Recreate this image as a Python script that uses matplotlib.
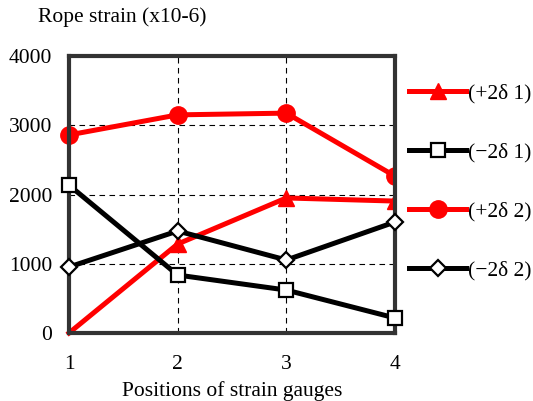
import matplotlib
matplotlib.use("Agg")
import matplotlib.pyplot as plt
from matplotlib.lines import Line2D
from matplotlib.patches import Rectangle

plt.rcParams['font.family'] = ['Liberation Serif', 'DejaVu Serif']

positions = [1, 2, 3, 4]
plus_2d1 = [0, 1285, 1950, 1905]
minus_2d1 = [2135, 837, 620, 217]
plus_2d2 = [2860, 3150, 3175, 2265]
minus_2d2 = [953, 1473, 1054, 1603]
labels = ["(+2δ 1)", "(\u22122δ 1)", "(+2δ 2)", "(\u22122δ 2)"]

fs = 15.5
fig = plt.figure(figsize=(5.33, 4.01), dpi=100)
ax = fig.add_axes([69/533, 1-333/401, (395-69)/533, (333-56)/401])

lw = 3.6
clip = Rectangle((-0.1, -0.1), 1.1, 1.2, transform=ax.transAxes)
l1, = ax.plot(positions, plus_2d1, color='red', lw=lw, marker='^', ms=11, markevery=[1, 2, 3], zorder=2)
l2, = ax.plot(positions, plus_2d2, color='red', lw=lw, marker='o', ms=12.5, zorder=2)
for l in (l1, l2):
    l.set_clip_path(clip)
ax.plot(positions, minus_2d1, color='black', lw=lw, marker='s', ms=10, mfc='white', mec='black', mew=1.6, clip_on=False, zorder=4)
ax.plot(positions, minus_2d2, color='black', lw=lw, marker='D', ms=8, mfc='white', mec='black', mew=1.6, clip_on=False, zorder=4)

ax.set_xlim(1, 4)
ax.set_ylim(0, 4000)
ax.set_xticks(positions)
ax.set_yticks([0, 1000, 2000, 3000, 4000])
ax.tick_params(axis='both', length=0, labelsize=fs)
ax.tick_params(axis='y', pad=12)
ax.tick_params(axis='x', pad=16)
ax.grid(True, color='black', ls=(0, (5, 4)), lw=0.8)
ax.set_axisbelow(True)
for sp in ax.spines.values():
    sp.set_linewidth(3)
    sp.set_color('#333333')
    sp.set_zorder(3)

fig.text(38/533, 1-17/401, "Rope strain (x10-6)", fontsize=fs, va='center', ha='left')
ax.set_xlabel("Positions of strain gauges", fontsize=fs, labelpad=5)

handles = [
    Line2D([], [], color='red', lw=lw, marker='^', ms=11),
    Line2D([], [], color='black', lw=lw, marker='s', ms=10, mfc='white', mec='black', mew=1.6),
    Line2D([], [], color='red', lw=lw, marker='o', ms=12.5),
    Line2D([], [], color='black', lw=lw, marker='D', ms=8, mfc='white', mec='black', mew=1.6),
]
fig.legend(handles, labels, loc='upper left', bbox_to_anchor=(409/533, 1-83/401),
           frameon=False, fontsize=fs, handlelength=2.65, handletextpad=0.1,
           labelspacing=1.82, borderaxespad=0, borderpad=0)

fig.savefig("out.png", dpi=100)
